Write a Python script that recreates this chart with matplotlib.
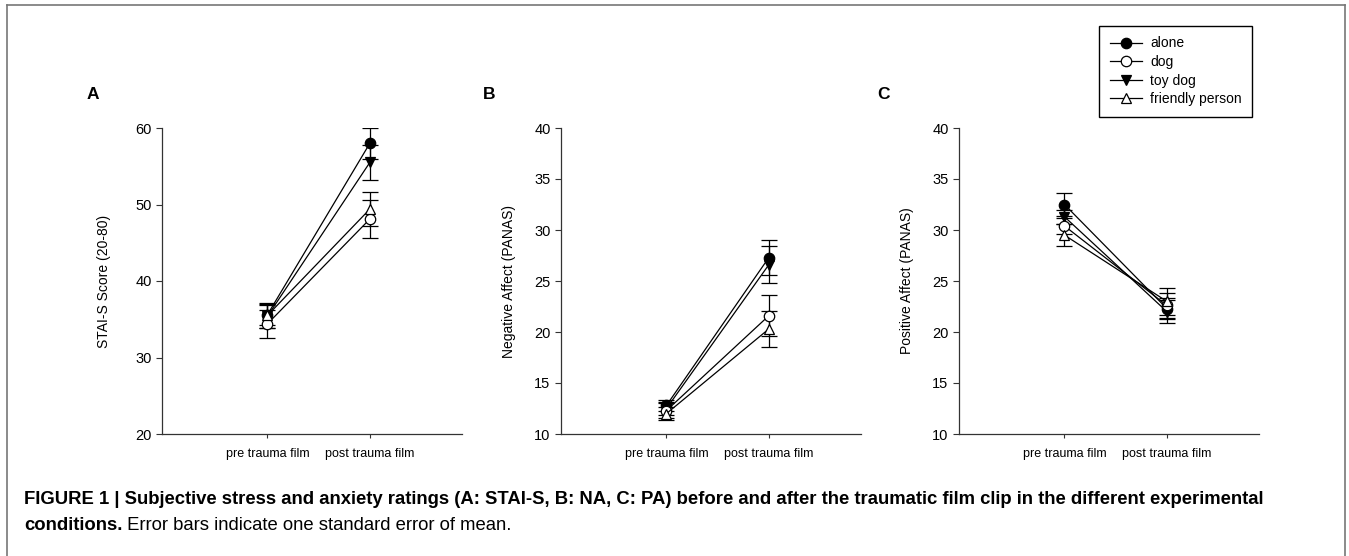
import matplotlib
matplotlib.use("Agg")
import matplotlib.pyplot as plt
from matplotlib.lines import Line2D

plt.rcParams["font.family"] = ["Liberation Sans", "DejaVu Sans"]

# conditions and time points
conditions = ["alone", "dog", "toy dog", "friendly person"]
timepoints = ["pre trauma film", "post trauma film"]

# A: STAI-S, means and SE (pre, post)
stai_mean = {"alone": [35.6, 58.0], "dog": [34.4, 48.1],
             "toy dog": [35.4, 55.5], "friendly person": [35.5, 49.4]}
stai_se = {"alone": [1.4, 2.0], "dog": [1.8, 2.5],
           "toy dog": [1.5, 2.3], "friendly person": [1.6, 2.2]}

# B: negative affect (PANAS)
na_mean = {"alone": [12.8, 27.3], "dog": [12.3, 21.6],
           "toy dog": [12.5, 26.6], "friendly person": [12.0, 20.3]}
na_se = {"alone": [0.5, 1.75], "dog": [0.7, 2.0],
         "toy dog": [0.6, 1.8], "friendly person": [0.6, 1.8]}

# C: positive affect (PANAS)
pa_mean = {"alone": [32.5, 22.3], "dog": [30.4, 22.6],
           "toy dog": [31.3, 22.0], "friendly person": [29.5, 23.0]}
pa_se = {"alone": [1.1, 1.0], "dog": [0.8, 1.2],
         "toy dog": [0.7, 1.1], "friendly person": [1.1, 1.3]}

styles = {
    "alone": dict(marker="o", mfc="black"),
    "dog": dict(marker="o", mfc="white"),
    "toy dog": dict(marker="v", mfc="black"),
    "friendly person": dict(marker="^", mfc="white"),
}
draw_order = ["toy dog", "alone", "dog", "friendly person"]

W, H = 1349, 556
fig = plt.figure(figsize=(W / 100, H / 100), dpi=100)


def px_axes(left, top, width, height):
    return fig.add_axes([left / W, 1 - (top + height) / H, width / W, height / H])


def panel(ax, means, ses, ylim, yticks, ylabel, label_x):
    x = [1, 2]
    for c in draw_order:
        ax.errorbar(x, means[c], yerr=ses[c], color="black", lw=0.9,
                    marker=styles[c]["marker"], mfc=styles[c]["mfc"],
                    mec="black", ms=7.5, mew=0.9, capsize=6, capthick=0.9,
                    elinewidth=0.9)
    ax.set_xlim(-0.03, 2.9)
    ax.set_ylim(*ylim)
    ax.set_yticks(yticks)
    ax.set_xticks(x)
    ax.set_xticklabels(timepoints, fontsize=9)
    ax.tick_params(axis="y", labelsize=10.5, length=4, width=0.8, color="#333333")
    ax.tick_params(axis="x", length=3, width=0.8, color="#333333", pad=7)
    ax.spines["top"].set_visible(False)
    ax.spines["right"].set_visible(False)
    for s in ["left", "bottom"]:
        ax.spines[s].set_color("#333333")
        ax.spines[s].set_linewidth(0.9)
    ax.set_ylabel(ylabel, fontsize=10)
    ax.yaxis.set_label_coords(label_x, 0.5)


axA = px_axes(162, 128, 300, 306)
panel(axA, stai_mean, stai_se, (20, 60), [20, 30, 40, 50, 60],
      "STAI-S Score (20-80)", -0.17)
axB = px_axes(561, 128, 300, 306)
panel(axB, na_mean, na_se, (10, 40), range(10, 41, 5),
      "Negative Affect (PANAS)", -0.15)
axC = px_axes(959, 128, 300, 306)
panel(axC, pa_mean, pa_se, (10, 40), range(10, 41, 5),
      "Positive Affect (PANAS)", -0.15)

# panel letters
for letter, xp in [("A", 87), ("B", 483), ("C", 877)]:
    fig.text(xp / W, 1 - 94 / H, letter, fontsize=12.5, fontweight="bold",
             va="center", ha="left")

# legend
handles = [Line2D([], [], color="black", lw=0.9, marker=styles[c]["marker"],
                  mfc=styles[c]["mfc"], mec="black", ms=7.5, mew=0.9)
           for c in conditions]
leg = fig.legend(handles, conditions, loc="upper right",
                 bbox_to_anchor=(1252 / W, 1 - 26 / H), borderaxespad=0,
                 fontsize=10, fancybox=False, edgecolor="black",
                 handlelength=2.3, handletextpad=0.6, labelspacing=0.33,
                 borderpad=0.75, framealpha=1)
leg.get_frame().set_linewidth(1.0)

# caption
fig.text(24 / W, 1 - 500 / H,
         "FIGURE 1 | Subjective stress and anxiety ratings (A: STAI-S, B: NA, "
         "C: PA) before and after the traumatic film clip in the different experimental",
         fontsize=13.3, fontweight="bold", va="center", ha="left")
t2 = fig.text(24 / W, 1 - 525 / H, "conditions.", fontsize=13.3,
              fontweight="bold", va="center", ha="left")
fig.add_artist(plt.Annotation(" Error bars indicate one standard error of mean.",
                              xy=(1, 0.5), xycoords=t2, va="center", ha="left",
                              fontsize=13.3))

# outer frame of the figure box
for xs, ys in [([7, 7], [5, 560]), ([7, 1345], [5, 5]), ([1345, 1345], [5, 560])]:
    fig.add_artist(Line2D([v / W for v in xs], [1 - v / H for v in ys],
                          color="#777777", lw=1.2, transform=fig.transFigure))

fig.savefig("out.png", dpi=100)
